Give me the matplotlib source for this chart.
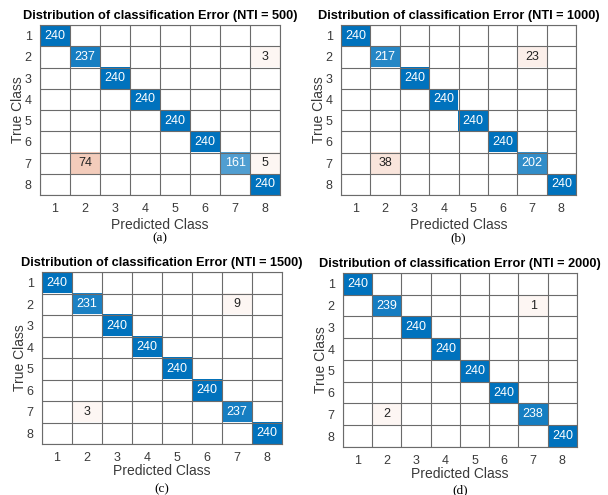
import numpy as np
import matplotlib.pyplot as plt

classes = [1, 2, 3, 4, 5, 6, 7, 8]
nti = [500, 1000, 1500, 2000]
captions = ['(a)', '(b)', '(c)', '(d)']

# diagonal counts per panel
diag_500 = [240, 237, 240, 240, 240, 240, 161, 240]
diag_1000 = [240, 217, 240, 240, 240, 240, 202, 240]
diag_1500 = [240, 231, 240, 240, 240, 240, 237, 240]
diag_2000 = [240, 239, 240, 240, 240, 240, 238, 240]

# off-diagonal errors: (true, predicted, count)
off_500 = [(2, 8, 3), (7, 2, 74), (7, 8, 5)]
off_1000 = [(2, 7, 23), (7, 2, 38)]
off_1500 = [(2, 7, 9), (7, 2, 3)]
off_2000 = [(2, 7, 1), (7, 2, 2)]

diags = [diag_500, diag_1000, diag_1500, diag_2000]
offs = [off_500, off_1000, off_1500, off_2000]

positions = [
    [0.0658, 0.606, 0.395, 0.3434],
    [0.5609, 0.606, 0.3865, 0.3434],
    [0.069, 0.103, 0.395, 0.3475],
    [0.564, 0.097, 0.385, 0.3515],
]
caption_y = [-0.255, -0.255, -0.262, -0.248]
xlabel_pad = [2, 2, 0, 0]

blue = np.array([0, 114, 189]) / 255
orange = np.array([217, 83, 25]) / 255
white = np.array([1.0, 1.0, 1.0])


def mix(c, frac):
    return white * (1 - frac) + c * frac


plt.rcParams['font.family'] = 'Liberation Sans'
fig = plt.figure(figsize=(6.08, 4.95), dpi=100)

for k in range(4):
    ax = fig.add_axes(positions[k])
    n = len(classes)
    img = np.ones((n, n, 3))
    labels = {}
    for i, v in enumerate(diags[k]):
        f = v / 240
        f = 0.72 * f + 0.2 if f < 1 else 1.0
        img[i, i] = mix(blue, f)
        labels[(i, i)] = (v, 'white')
    for t, p, v in offs[k]:
        f = max(v / 240 * 0.95, 0.05)
        img[t - 1, p - 1] = mix(orange, f)
        labels[(t - 1, p - 1)] = (v, '#222222')
    ax.imshow(img, aspect='auto', interpolation='nearest')
    for (r, c), (v, col) in labels.items():
        ax.text(c, r, str(v), ha='center', va='center', fontsize=9, color=col)
    for b in np.arange(-0.5, n, 1):
        ax.axhline(b, color='#6b6b6b', lw=0.8)
        ax.axvline(b, color='#6b6b6b', lw=0.8)
    for s in ax.spines.values():
        s.set_color('#6b6b6b')
        s.set_linewidth(0.8)
    ax.set_xticks(range(n))
    ax.set_xticklabels(classes)
    ax.set_yticks(range(n))
    ax.set_yticklabels(classes)
    ax.tick_params(length=0, labelsize=9, colors='#3a3a3a', pad=6)
    ax.set_xlabel('Predicted Class', fontsize=10, color='#3a3a3a',
                  labelpad=xlabel_pad[k])
    ax.set_ylabel('True Class', fontsize=10, color='#3a3a3a', labelpad=0)
    ax.set_title(f'Distribution of classification Error (NTI = {nti[k]})',
                 fontsize=9.2, fontweight='bold', pad=4)
    ax.text(0.5, caption_y[k], captions[k], transform=ax.transAxes, ha='center',
            va='center', fontsize=9.5, family='Liberation Serif')

plt.savefig('out.png', dpi=100)
